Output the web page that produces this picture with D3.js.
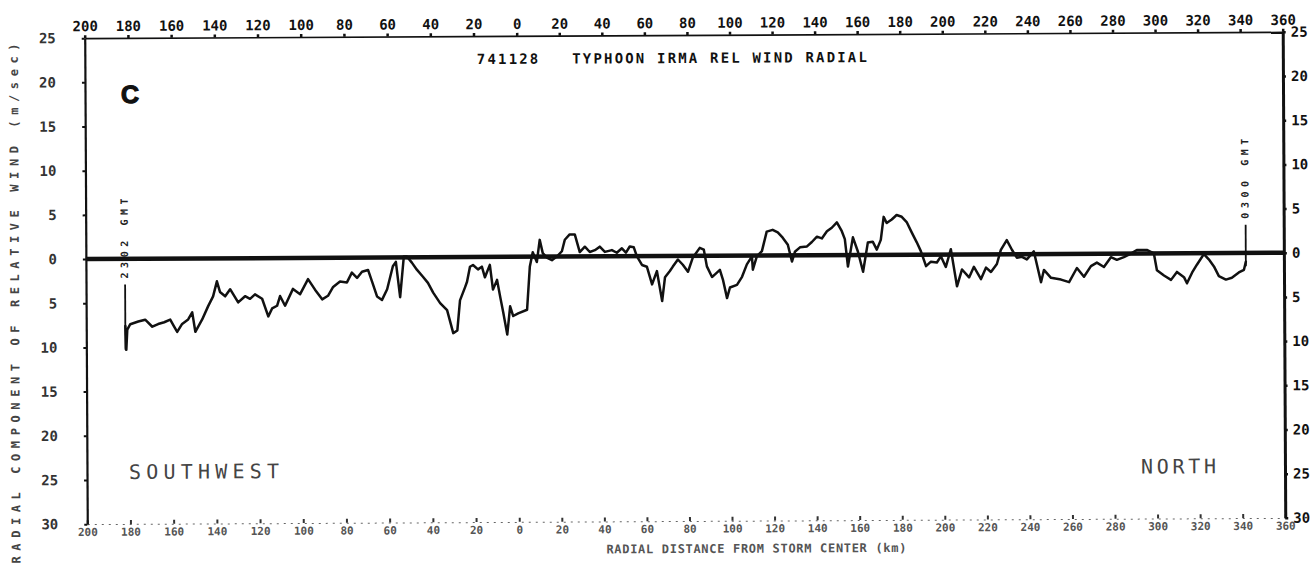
<!DOCTYPE html>
<html>
<head>
<meta charset="utf-8">
<script src="https://cdn.jsdelivr.net/npm/d3@7"></script>
<style>
  html, body { margin: 0; padding: 0; background: #fff; }
  svg { display: block; }
</style>
</head>
<body>
<svg id="chart" width="1314" height="569"></svg>
<script>
// Radial distance from the storm centre (km); negative = southwest leg, positive = north leg
const distTicks = [-200,-180,-160,-140,-120,-100,-80,-60,-40,-20,0,20,40,60,80,100,120,140,160,180,200,220,240,260,280,300,320,340,360];
const distTickLabels = ["200","180","160","140","120","100","80","60","40","20","0","20","40","60","80","100","120","140","160","180","200","220","240","260","280","300","320","340","360"];

// Radial component of relative wind (m/sec)
const windTicks = [25,20,15,10,5,0,-5,-10,-15,-20,-25,-30];
const windTickLabels = ["25","20","15","10","5","0","5","10","15","20","25","30"];

// Flight-level trace
const distance = [
  -181.9,-181.5,-181.0,-179.6,-175.9,-172.7,-169.4,-166.7,-163.9,-161.1,
  -159.3,-157.9,-155.6,-152.8,-150.9,-149.5,-146.3,-143.5,-141.2,-139.4,
  -138.0,-135.6,-133.3,-129.6,-126.4,-124.1,-121.8,-118.5,-115.7,-113.9,
  -111.6,-110.2,-107.9,-104.2,-100.9,-97.2,-94.0,-90.7,-88.0,-85.6,
  -82.4,-79.2,-76.9,-74.5,-72.2,-69.4,-67.6,-65.3,-63.0,-60.6,
  -57.9,-56.5,-54.6,-52.8,-51.4,-49.1,-46.8,-44.0,-41.7,-39.3,
  -36.1,-32.9,-30.1,-28.2,-26.9,-24.5,-23.6,-22.2,-20.8,-18.5,
  -16.7,-15.3,-13.0,-11.6,-9.7,-8.3,-6.9,-5.1,-3.7,-2.3,
  0.0,4.2,5.6,7.0,8.9,10.3,11.7,13.6,16.0,18.3,
  20.7,22.1,24.4,26.8,29.1,31.5,33.8,36.2,38.5,40.9,
  44.2,46.5,48.9,50.8,52.6,54.5,55.9,58.3,60.6,63.0,
  65.3,67.7,69.1,71.4,72.8,75.2,77.5,79.9,82.2,85.5,
  87.4,88.8,91.2,92.6,94.9,96.3,98.2,99.6,102.9,105.3,
  107.6,110.0,110.4,112.3,114.7,117.0,119.8,122.2,124.5,126.9,
  128.8,130.2,132.6,135.9,138.2,140.6,142.9,145.3,147.6,150.0,
  152.3,153.7,155.1,157.5,159.8,162.2,164.5,166.8,168.7,170.6,
  172.0,173.4,175.8,178.1,180.5,182.8,185.2,187.5,189.4,191.8,
  194.1,196.9,198.8,201.1,203.5,206.3,208.7,212.0,214.3,217.6,
  220.0,222.3,225.1,227.0,229.8,232.2,234.5,236.9,239.2,242.5,
  245.8,247.2,250.5,255.2,259.0,262.7,266.0,269.3,272.1,275.4,
  278.7,281.5,284.8,288.1,290.9,295.6,298.9,300.3,303.6,306.9,
  309.7,313.0,314.4,316.8,319.1,322.4,324.7,327.1,329.4,332.7,
  335.5,338.8,341.2,342.1
];
const radialWind = [
  -7.6,-10.3,-8.0,-7.4,-7.1,-6.9,-7.7,-7.4,-7.2,-6.9,
  -7.7,-8.3,-7.4,-6.9,-6.1,-8.3,-6.9,-5.4,-4.3,-2.6,
  -3.8,-4.3,-3.5,-5.0,-4.3,-4.6,-4.1,-4.6,-6.6,-5.7,
  -5.4,-4.3,-5.4,-3.5,-4.1,-2.4,-3.6,-4.7,-4.3,-3.3,
  -2.7,-2.8,-1.7,-2.3,-1.6,-1.4,-2.7,-4.4,-4.8,-3.6,
  -1.0,-0.5,-4.5,0.1,0.1,-0.6,-1.4,-2.2,-2.9,-4.0,
  -5.2,-6.0,-8.6,-8.3,-4.9,-3.4,-2.8,-1.1,-0.9,-1.4,
  -1.1,-2.3,-0.9,-3.7,-2.6,-4.5,-6.3,-8.8,-5.6,-6.7,
  -6.4,-6.0,-1.1,0.5,-0.6,1.9,0.4,-0.1,-0.4,0.0,
  0.6,1.9,2.5,2.5,0.5,1.1,0.5,0.7,1.1,0.5,
  0.7,0.4,0.9,0.4,1.1,1.0,0.0,-1.0,-1.2,-3.2,
  -1.7,-5.1,-2.4,-1.7,-1.2,-0.4,-1.0,-1.8,-0.2,0.9,
  0.7,-1.2,-2.4,-2.1,-1.6,-2.7,-4.8,-3.6,-3.3,-2.4,
  -1.0,-0.1,-1.6,-0.1,0.5,2.7,2.9,2.6,2.0,1.2,
  -0.7,0.4,0.9,1.0,1.5,2.1,1.9,2.7,3.1,3.7,
  2.7,1.8,-1.3,2.0,0.4,-1.9,1.4,1.5,0.6,1.7,
  4.3,3.6,4.0,4.5,4.3,3.7,2.5,1.4,0.4,-1.3,
  -0.8,-0.9,-0.2,-1.4,0.6,-3.6,-1.7,-2.6,-1.4,-2.8,
  -1.5,-2.0,-1.1,0.5,1.6,0.5,-0.4,-0.3,-0.6,0.3,
  -3.2,-1.8,-2.7,-2.9,-3.2,-1.6,-2.6,-1.4,-1.0,-1.5,
  -0.4,-0.7,-0.4,0.0,0.4,0.4,0.0,-1.9,-2.5,-3.0,
  -2.1,-2.7,-3.4,-2.2,-1.3,-0.1,-0.7,-1.5,-2.6,-3.0,
  -2.8,-2.2,-1.9,-1.0
];

// Start / end of the leg
const legDist = [-181.9, 342.1];
const legTop = [-2.9, 3.2];
const legBottom = [-10.3, -1.5];
const legLabels = ["2302 GMT", "0300 GMT"];

const MONO = "'DejaVu Sans Mono', monospace";
const INK = "#111";

const svg = d3.select("#chart");
// the plotted sheet sits very slightly askew
const root = svg.append("g").attr("transform", "rotate(-0.3 685 280)");

const x = d3.scaleLinear().domain([-200, 0, 360]).range([86, 518, 1284]);
const y = d3.scaleLinear().domain([-30, 25]).range([521, 35]);

function styleAxis(g, size, fill, weight) {
  g.attr("font-family", MONO).attr("font-size", size).attr("font-weight", weight);
  g.selectAll(".tick text").attr("fill", fill);
}

// top distance axis
root.append("g")
  .attr("transform", `translate(0,${y(25)})`)
  .call(d3.axisTop(x).tickValues(distTicks).tickFormat((d, i) => distTickLabels[i])
    .tickSizeInner(3).tickSizeOuter(0).tickPadding(4))
  .call(g => styleAxis(g, 14, INK, "bold"))
  .call(g => g.select(".domain").attr("stroke", INK).attr("stroke-width", 1.6))
  .call(g => g.selectAll(".tick line").attr("stroke", INK).attr("stroke-width", 2.5));

// bottom distance axis
root.append("g")
  .attr("transform", `translate(0,${y(-30)})`)
  .call(d3.axisBottom(x).tickValues(distTicks).tickFormat((d, i) => distTickLabels[i])
    .tickSizeInner(-4).tickSizeOuter(0).tickPadding(4))
  .call(g => styleAxis(g, 11, "#555", "bold"))
  .call(g => g.select(".domain").attr("stroke", "#666").attr("stroke-width", 1).attr("stroke-dasharray", "2 5"))
  .call(g => g.selectAll(".tick line").attr("stroke", "#333").attr("stroke-width", 2));

// left wind axis
root.append("g")
  .attr("transform", `translate(${x(-200)},0)`)
  .call(d3.axisLeft(y).tickValues(windTicks).tickFormat((d, i) => windTickLabels[i])
    .tickSizeInner(3).tickSizeOuter(0).tickPadding(26))
  .call(g => styleAxis(g, 14, "#333", "bold"))
  .call(g => g.select(".domain").attr("stroke", INK).attr("stroke-width", 2.2))
  .call(g => g.selectAll(".tick line").attr("stroke", INK).attr("stroke-width", 2));

// right wind axis
root.append("g")
  .attr("transform", `translate(${x(360)},0)`)
  .call(d3.axisRight(y).tickValues(windTicks).tickFormat((d, i) => windTickLabels[i])
    .tickSizeInner(3).tickSizeOuter(0).tickPadding(5))
  .call(g => styleAxis(g, 14, INK, "bold"))
  .call(g => g.select(".domain").attr("stroke", INK).attr("stroke-width", 3))
  .call(g => g.selectAll(".tick line").attr("stroke", INK).attr("stroke-width", 2.5));

// zero reference line
root.append("line")
  .attr("x1", x(-200)).attr("x2", x(360))
  .attr("y1", y(0)).attr("y2", y(0))
  .attr("stroke", INK).attr("stroke-width", 4.5);

// leg start / end markers
root.append("g").selectAll("line")
  .data(legDist)
  .join("line")
  .attr("x1", d => x(d)).attr("x2", d => x(d))
  .attr("y1", (d, i) => y(legTop[i])).attr("y2", (d, i) => y(legBottom[i]))
  .attr("stroke", INK).attr("stroke-width", 1.8);

root.append("g").selectAll("text")
  .data(legDist)
  .join("text")
  .attr("transform", (d, i) => `translate(${x(d) + 3},${y(legTop[i]) - 6}) rotate(-90)`)
  .attr("font-family", MONO).attr("font-weight", "bold").attr("font-size", 10)
  .attr("fill", "#222")
  .attr("textLength", 80).attr("lengthAdjust", "spacing")
  .text((d, i) => legLabels[i]);

// wind trace
root.append("path")
  .datum(d3.range(distance.length))
  .attr("fill", "none")
  .attr("stroke", INK)
  .attr("stroke-width", 2.5)
  .attr("stroke-linejoin", "round")
  .attr("stroke-linecap", "round")
  .attr("d", d3.line().x(i => x(distance[i])).y(i => y(radialWind[i])));

// title
root.append("text")
  .attr("x", 478).attr("y", 63)
  .attr("font-family", MONO).attr("font-weight", "bold").attr("font-size", 14)
  .attr("fill", INK)
  .attr("textLength", 390).attr("lengthAdjust", "spacing")
  .attr("xml:space", "preserve")
  .text("741128   TYPHOON IRMA REL WIND RADIAL");

// panel letter
root.append("text")
  .attr("x", 122).attr("y", 100)
  .attr("font-family", "'Liberation Sans', Arial, sans-serif").attr("font-weight", "900")
  .attr("font-size", 25).attr("fill", INK)
  .attr("stroke", INK).attr("stroke-width", 1.2)
  .text("C");

// leg directions
root.append("text")
  .attr("x", 128).attr("y", 476)
  .attr("font-family", MONO).attr("font-size", 20).attr("fill", "#444")
  .attr("textLength", 150).attr("lengthAdjust", "spacing")
  .text("SOUTHWEST");
root.append("text")
  .attr("x", 1140).attr("y", 476)
  .attr("font-family", MONO).attr("font-size", 20).attr("fill", "#444")
  .attr("textLength", 75).attr("lengthAdjust", "spacing")
  .text("NORTH");

// axis titles
root.append("text")
  .attr("x", 605).attr("y", 553)
  .attr("font-family", MONO).attr("font-weight", "bold").attr("font-size", 12).attr("fill", "#555")
  .attr("textLength", 300).attr("lengthAdjust", "spacing")
  .text("RADIAL DISTANCE FROM STORM CENTER (km)");
root.append("text")
  .attr("transform", "translate(19,560) rotate(-90)")
  .attr("font-family", MONO).attr("font-weight", "bold").attr("font-size", 12).attr("fill", "#444")
  .attr("textLength", 520).attr("lengthAdjust", "spacing")
  .text("RADIAL COMPONENT OF RELATIVE WIND (m/sec)");
</script>
</body>
</html>
